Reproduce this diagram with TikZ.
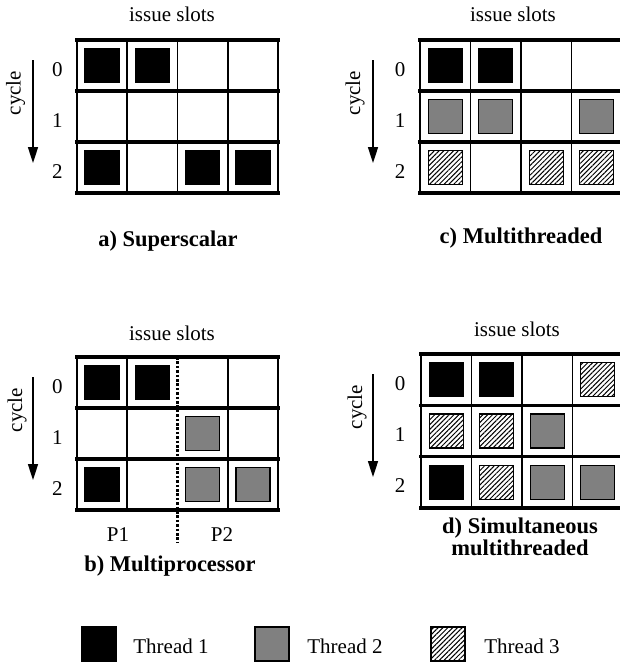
\documentclass[tikz,border=0pt]{standalone}
\usepackage{fontspec}
\setmainfont{Liberation Serif}
\usetikzlibrary{patterns.meta,arrows.meta}
\definecolor{thrgray}{HTML}{808080}
\tikzset{
  cellsq/.style={minimum width=34pt, minimum height=34pt, inner sep=0pt, draw=black, line width=1.3pt},
  t1/.style={cellsq, fill=black},
  t2/.style={cellsq, fill=thrgray},
  t3/.style={cellsq, fill=white, postaction={pattern={Lines[angle=45,distance=3.4pt,line width=1pt]}}},
  rowline/.style={line width=3.2pt, line cap=rect},
  colline/.style={line width=1.7pt},
  lbl/.style={font=\fontsize{21}{24}\selectfont, inner sep=0pt},
  capt/.style={font=\fontsize{22.5}{22}\selectfont\bfseries, align=center, inner sep=0pt},
  cyc/.style={-{Triangle[length=16pt,width=10pt]}, line width=1.6pt},
}
% #1 name, #2/#3 top-left corner, #4/#5 cell width/height,
% #6 inner column lines, #7 filled slots as column/row/style
\newcommand\slotgrid[7]{%
  \begin{scope}[shift={(#2,#3)}]
    \foreach \i in {#6} \draw[colline] (\i*#4,0) -- (\i*#4,3*#5);
    \draw[colline] (0,0) -- (0,3*#5);
    \draw[colline] (4*#4,0) -- (4*#4,3*#5);
    \foreach \j in {0,...,3} \draw[rowline] (0,\j*#5) -- (4*#4,\j*#5);
    \foreach \c/\r/\s in {#7}
      \node[\s] (#1-\c-\r) at ({(\c+0.5)*#4},{(\r+0.5)*#5}) {};
  \end{scope}}
% cycle axis: #1 name, #2 label x, #3 arrow x, #4 digit x, #5 grid top, #6 row height
\newcommand\cycleaxis[6]{%
  \node[lbl, rotate=90] (#1-cyc) at (#2,#5+53) {cycle};
  \coordinate (#1-atop) at (#3,#5+20);
  \coordinate (#1-abot) at (#3,#5+123);
  \draw[cyc] (#1-atop) -- (#1-abot);
  \foreach \r in {0,1,2}
    \node[lbl, anchor=base] (#1-d\r) at (#4,{#5+(\r+0.5)*#6+10.5}) {\r};}
\begin{document}
\begin{tikzpicture}[x=1pt,y=-1pt]
  \useasboundingbox (0,0) rectangle (620,662);
  \clip (0,0) rectangle (620,662);

  % a) superscalar
  \node[lbl, anchor=base] (a-is) at (172,21.7) {issue slots};
  \slotgrid{a}{77}{40}{50.25}{51}{1,2,3}{0/0/t1,1/0/t1,0/2/t1,2/2/t1,3/2/t1}
  \cycleaxis{a}{15.5}{33}{57.5}{40}{51}
  \node[capt, anchor=base] (a-cap) at (168,246) {a) Superscalar};

  % c) multithreaded
  \node[lbl, anchor=base] (c-is) at (513,21.7) {issue slots};
  \slotgrid{c}{420}{40}{50.5}{51}{1,2,3}{0/0/t1,1/0/t1,0/1/t2,1/1/t2,3/1/t2,0/2/t3,2/2/t3,3/2/t3}
  \cycleaxis{c}{355}{373}{400}{40}{51}
  \node[capt, anchor=base] (c-cap) at (521,243) {c) Multithreaded};

  % b) multiprocessor
  \node[lbl, anchor=base] (b-is) at (172,340) {issue slots};
  \slotgrid{b}{77}{357}{50.25}{51}{1,3}{0/0/t1,1/0/t1,2/1/t2,0/2/t1,2/2/t2,3/2/t2}
  \cycleaxis{b}{17}{33}{57.5}{357}{51}
  \coordinate (b-split-top) at (177.5,357);
  \coordinate (b-split-bot) at (177.5,543);
  \draw[line width=2.6pt, dash pattern=on 2.6pt off 1.8pt] (b-split-top) -- (b-split-bot);
  \node[lbl, anchor=base] (b-p1) at (118,541.7) {P1};
  \node[lbl, anchor=base] (b-p2) at (222,541.7) {P2};
  \node[capt, anchor=base] (b-cap) at (170,571) {b) Multiprocessor};

  % d) simultaneous multithreaded
  \node[lbl, anchor=base] (d-is) at (517,336.7) {issue slots};
  \slotgrid{d}{421}{354}{50.5}{51.3}{1,2,3}{0/0/t1,1/0/t1,3/0/t3,0/1/t3,1/1/t3,2/1/t2,0/2/t1,1/2/t3,2/2/t2,3/2/t2}
  \cycleaxis{d}{357}{373}{400}{354}{51.3}
  \node[capt, anchor=base] (d-cap) at (520,555) {d) Simultaneous\\ multithreaded};

  % legend
  \node[t1] (k1) at (99,644) {};
  \node[lbl, anchor=base] (k1-t) at (171,653) {Thread 1};
  \node[t2] (k2) at (272,644) {};
  \node[lbl, anchor=base] (k2-t) at (345,653) {Thread 2};
  \node[t3] (k3) at (448,644) {};
  \node[lbl, anchor=base] (k3-t) at (522,653) {Thread 3};
\end{tikzpicture}
\end{document}
